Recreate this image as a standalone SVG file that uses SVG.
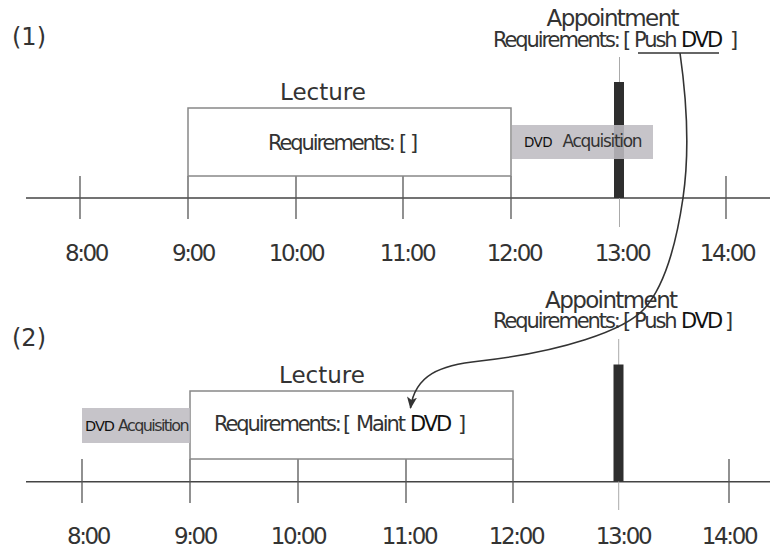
<svg xmlns="http://www.w3.org/2000/svg" width="770" height="547" viewBox="0 0 770 547">
  <style>
    text { font-family: "DejaVu Sans", "Liberation Sans", sans-serif; fill: #333; }
    .step { font-size: 24px; }
    .time { font-size: 23px; letter-spacing: -2.4px; text-anchor: middle; }
    .title { font-size: 23px; }
    .appt { font-size: 23px; letter-spacing: -1.6px; }
    .req { font-size: 21px; letter-spacing: -2.1px; }
    .dvd { fill: #111; }
    .acq { font-size: 17px; letter-spacing: -1.3px; }
    .acq-dvd { font-size: 13.5px; letter-spacing: -0.6px; fill: #111; }
    .axis { stroke: #444; stroke-width: 1.5; fill: none; }
    .tick { stroke: #555; stroke-width: 1.3; }
    .box { fill: #fff; stroke: #888; stroke-width: 1.5; }
    .slot { fill: #bebcc1; fill-opacity: 0.88; }
    .marker-line { stroke: #aaa; stroke-width: 1; }
    .bar { fill: #2e2e2e; }
    .link { fill: none; stroke: #333; stroke-width: 1.6; }
  </style>
  <defs>
    <marker id="arrowhead" viewBox="0 0 12 10" refX="11" refY="5" markerWidth="12" markerHeight="10" markerUnits="userSpaceOnUse" orient="auto">
      <path d="M0,0 L12,5 L0,10 L3,5 z" fill="#333"/>
    </marker>
  </defs>

  <rect width="770" height="547" fill="#fff"/>

  <!-- Schedule (1) -->
  <g id="schedule-1">
    <text class="step" x="12" y="45">(1)</text>

    <g id="timeline-1">
      <line class="axis" x1="26" y1="198" x2="770" y2="198"/>
      <line class="tick" x1="80" y1="176" x2="80" y2="219"/>
      <line class="tick" x1="188" y1="176" x2="188" y2="219"/>
      <line class="tick" x1="296" y1="176" x2="296" y2="219"/>
      <line class="tick" x1="403" y1="176" x2="403" y2="219"/>
      <line class="tick" x1="511" y1="176" x2="511" y2="219"/>
      <line class="tick" x1="726" y1="176" x2="726" y2="219"/>
      <line class="marker-line" x1="619.5" y1="57" x2="619.5" y2="227"/>
      <text class="time" x="86" y="261">8:00</text>
      <text class="time" x="193" y="261">9:00</text>
      <text class="time" x="296" y="261">10:00</text>
      <text class="time" x="407" y="261">11:00</text>
      <text class="time" x="514" y="261">12:00</text>
      <text class="time" x="622" y="261">13:00</text>
      <text class="time" x="727" y="261">14:00</text>
    </g>

    <g id="lecture-1">
      <text class="title" x="280" y="99.5">Lecture</text>
      <rect class="box" x="188" y="108" width="323" height="68"/>
      <text class="req" x="268" y="149.5">Requirements:<tspan x="399">[</tspan><tspan x="410">]</tspan></text>
    </g>

    <g id="appointment-1">
      <rect class="bar" x="614" y="82" width="10" height="116"/>
      <text class="appt" x="546.5" y="26">Appointment</text>
      <text class="req" x="493" y="46.5">Requirements:<tspan x="623">[</tspan><tspan x="634">Push</tspan><tspan class="dvd" x="681">DVD</tspan><tspan x="730">]</tspan></text>
      <line x1="638" y1="53" x2="719" y2="53" stroke="#333" stroke-width="1.5"/>
    </g>

    <g id="dvd-acquisition-1">
      <rect class="slot" x="512" y="125" width="141" height="34"/>
      <text x="524" y="146.5"><tspan class="acq-dvd">DVD</tspan><tspan class="acq" x="562.5">Acquisition</tspan></text>
    </g>
  </g>

  <!-- Schedule (2) -->
  <g id="schedule-2">
    <text class="step" x="12" y="346">(2)</text>

    <g id="timeline-2">
      <line class="axis" x1="26" y1="481.7" x2="770" y2="481.7"/>
      <line class="tick" x1="82" y1="459" x2="82" y2="503"/>
      <line class="tick" x1="190" y1="459" x2="190" y2="503"/>
      <line class="tick" x1="298" y1="459" x2="298" y2="503"/>
      <line class="tick" x1="406" y1="459" x2="406" y2="503"/>
      <line class="tick" x1="513" y1="459" x2="513" y2="503"/>
      <line class="tick" x1="729" y1="459" x2="729" y2="503"/>
      <line class="marker-line" x1="618.7" y1="339" x2="618.7" y2="510"/>
      <text class="time" x="88" y="543.5">8:00</text>
      <text class="time" x="195" y="543.5">9:00</text>
      <text class="time" x="298" y="543.5">10:00</text>
      <text class="time" x="409" y="543.5">11:00</text>
      <text class="time" x="516" y="543.5">12:00</text>
      <text class="time" x="623" y="543.5">13:00</text>
      <text class="time" x="729" y="543.5">14:00</text>
    </g>

    <g id="lecture-2">
      <text class="title" x="279" y="382.7">Lecture</text>
      <rect class="box" x="190" y="391" width="323" height="68"/>
      <text class="req" x="214" y="431">Requirements:<tspan x="343">[</tspan><tspan x="356">Maint</tspan><tspan class="dvd" x="410">DVD</tspan><tspan x="458">]</tspan></text>
    </g>

    <g id="appointment-2">
      <rect class="bar" x="613.5" y="364.5" width="10" height="117"/>
      <text class="appt" x="545" y="308.3">Appointment</text>
      <text class="req" x="493" y="328.3">Requirements:<tspan x="623">[</tspan><tspan x="634">Push</tspan><tspan class="dvd" x="681">DVD</tspan><tspan x="725">]</tspan></text>
    </g>

    <g id="dvd-acquisition-2">
      <rect class="slot" x="82" y="408" width="108" height="35"/>
      <text x="85" y="431"><tspan class="acq-dvd" style="font-size:14.5px;letter-spacing:-1px">DVD</tspan><tspan class="acq" style="font-size:16px;letter-spacing:-1.6px" x="118">Acquisition</tspan></text>
    </g>
  </g>

  <!-- Connectors -->
  <g id="connectors">
    <path class="link" marker-end="url(#arrowhead)" d="M680,53 C686,95 690,150 683,198 C676,246 665,285 645,308 C625,331 560,352 480,361 C440,365 415,375 410.5,408"/>
  </g>
</svg>
